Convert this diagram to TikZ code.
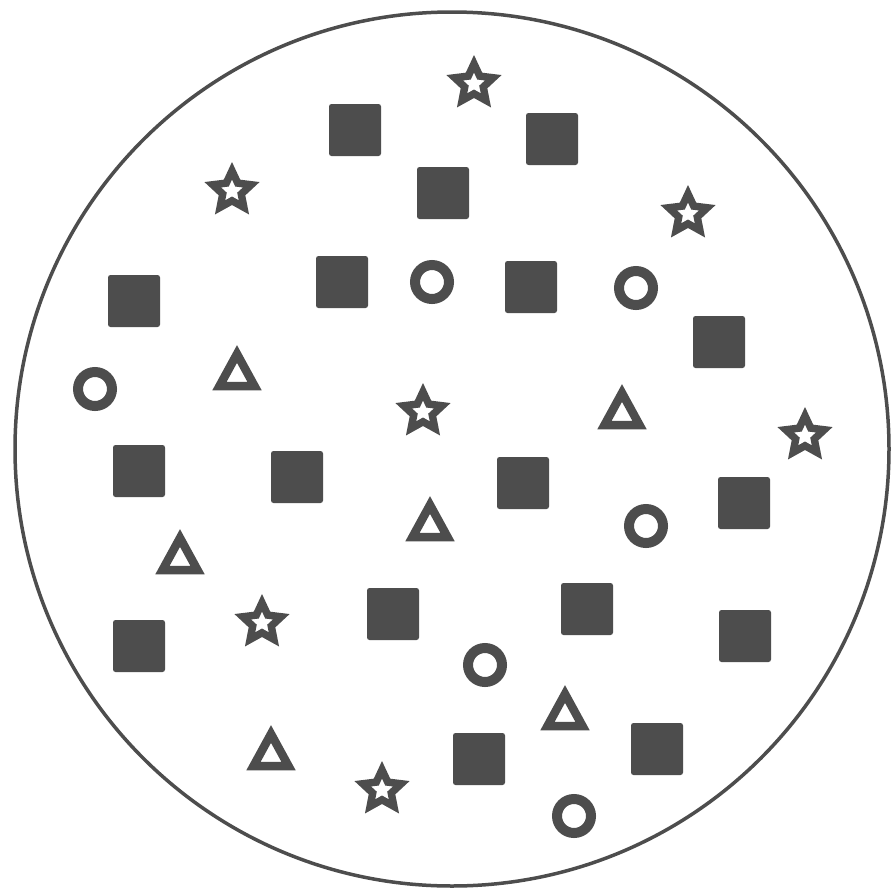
\documentclass[tikz,border=0pt]{standalone}
\usepackage{tikz}
\definecolor{shapecol}{RGB}{77,77,77}
\tikzset{
  pics/sq/.style={code={\fill[shapecol, rounded corners=2.5pt] (-26,-26) rectangle (26,26);}},
  pics/ring/.style={code={\draw[shapecol, line width=10pt] (0,0) circle (17);}},
  pics/tri/.style={code={\draw[shapecol, line width=8.5pt, line join=miter] (0,-14) -- (17.5,18) -- (-17.5,18) -- cycle;}},
  pics/starshape/.style={code={\fill[shapecol, even odd rule]
    (270:29) -- (306:14) -- (342:29) -- (18:14) -- (54:29) -- (90:14) -- (126:29) -- (162:14) -- (198:29) -- (234:14) -- cycle
    (270:11.5) -- (306:5.5) -- (342:11.5) -- (18:5.5) -- (54:11.5) -- (90:5.5) -- (126:11.5) -- (162:5.5) -- (198:11.5) -- (234:5.5) -- cycle;}}
}
\begin{document}
\begin{tikzpicture}[x=1pt,y=-1pt]
\useasboundingbox (0,0) rectangle (891,894);
\fill[white] (0,0) rectangle (891,894);
\coordinate (centre) at (452,449);
\draw[shapecol, line width=3.5pt] (centre) circle (437);
% squares
\foreach \p in {(355,130),(552,139),(443,193),(342,282),(531,287),(134,301),(719,342),(139,471),(297,477),(523,483),(744,503),(139,646),(393,614),(587,609),(745,636),(479,759),(657,749)}
  \pic at \p {sq};
% rings
\foreach \p in {(432,282),(636,288),(95,389),(646,526),(485,665),(574,816)}
  \pic at \p {ring};
% triangles
\foreach \p in {(237,368),(622,407),(430,519),(180,552),(565,708),(271,748)}
  \pic at \p {tri};
% stars
\foreach \p in {(474,84),(232,191),(688,214),(423,412),(805,436),(262,623),(382,790)}
  \pic at \p {starshape};
\end{tikzpicture}
\end{document}
